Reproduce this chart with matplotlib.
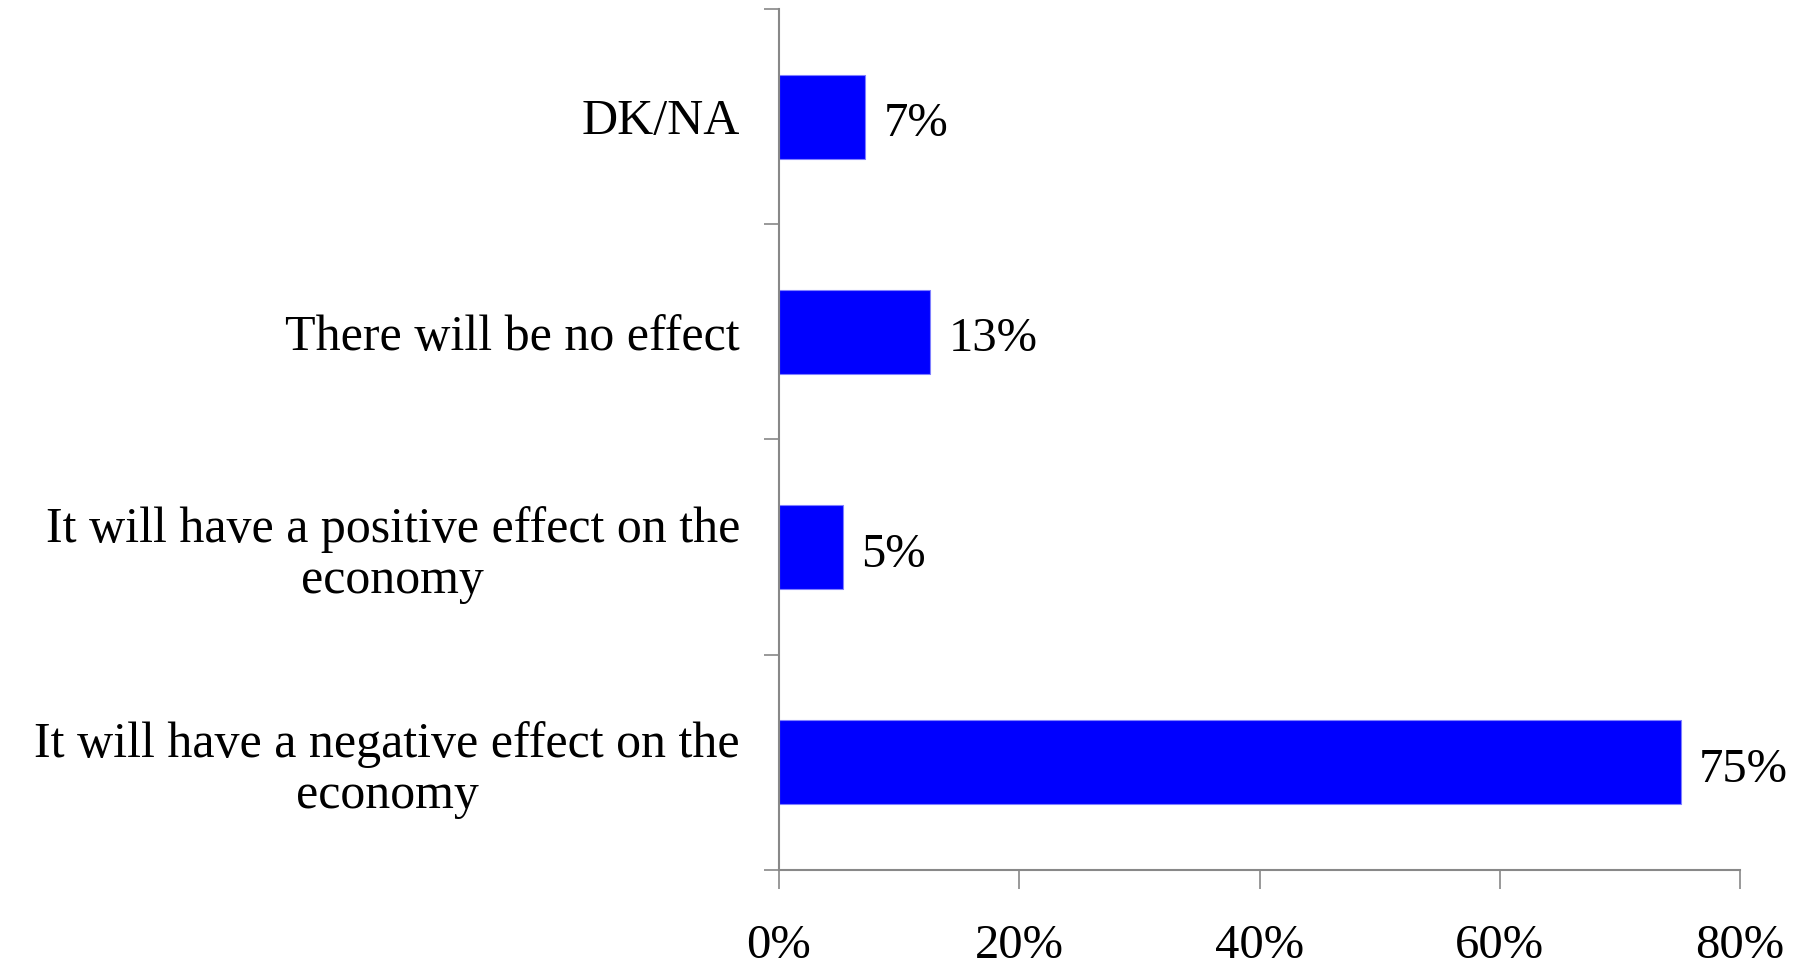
import numpy as np
import matplotlib.pyplot as plt

# answers, bottom to top as drawn
categories = ["It will have a negative effect on the\neconomy",
              "It will have a positive effect on the\neconomy",
              "There will be no effect",
              "DK/NA"]
values = [75.1, 5.3, 12.6, 7.2]
xticks = [0, 20, 40, 60, 80]

plt.rcParams['font.family'] = ['Liberation Serif', 'DejaVu Serif']

fig = plt.figure(figsize=(18.09, 9.69), dpi=100)
ax = fig.add_axes([0.4306, 0.1022, 0.5313, 0.8885])

y = np.arange(len(categories))
ax.barh(y, values, height=0.39, color='#0000FF', edgecolor='#8080ff', linewidth=0.8)

for yi, v in zip(y, values):
    ax.text(v + 1.5, yi - 0.035, "%.0f%%" % v, va='center', ha='left', fontsize=35)

ax.set_xlim(0, 80)
ax.set_ylim(-0.5, len(categories) - 0.5)
ax.set_xticks(xticks)
ax.set_xticklabels(["%d%%" % t for t in xticks], fontsize=35)

# category labels sit between boundary ticks
ax.set_yticks(y)
ax.set_yticklabels(categories, fontsize=36, multialignment='center', linespacing=1.12)
ax.tick_params(axis='y', length=0, pad=28)
ax.set_yticks(np.arange(len(categories) + 1) - 0.5, minor=True)
ax.tick_params(axis='y', which='minor', length=11, width=1.2, color='#888888')
ax.tick_params(axis='x', length=14, width=1.2, color='#888888', pad=25)

for s in ['top', 'right']:
    ax.spines[s].set_visible(False)
for s in ['left', 'bottom']:
    ax.spines[s].set_color('#888888')
    ax.spines[s].set_linewidth(1.5)

fig.savefig("out.png", dpi=100)
